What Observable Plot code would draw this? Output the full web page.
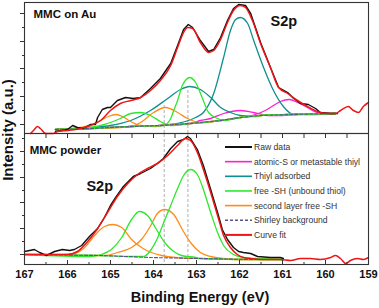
<!DOCTYPE html>
<html><head><meta charset="utf-8">
<script src="https://cdn.jsdelivr.net/npm/d3@7"></script>
<script src="https://cdn.jsdelivr.net/npm/@observablehq/plot@0.6"></script>
<style>
html,body{margin:0;padding:0;background:#fff;}
#chart{position:relative;width:379px;height:308px;}
</style></head><body><div id="chart"></div>
<script>
// ---------- data (binding energy eV, intensity a.u.) ----------
const panels = ["Au", "Powder"];
const xTickLabels = [167, 166, 165, 164, 163, 162, 161, 160, 159];
const xHalfTicks = [166.5, 165.5, 164.5, 163.5, 162.5, 161.5, 160.5, 159.5];
const auYMajor = [9, 37, 65, 92, 120];
const auYMinor = [23, 51, 78, 106];
const pwYMajor = [10, 36, 62, 87, 113];
const pwYMinor = [23, 49, 74, 100, 126];

// MMC on Au
const auRaw = [[166.28,2],[166.12,3],[166.00,4],[165.88,8],[165.77,6],[165.63,5],[165.47,9],[165.35,9],[165.30,16],[165.19,24],[165.07,26],[165.00,26],[164.84,33],[164.65,36],[164.47,35],[164.30,36],[164.07,45],[163.84,55],[163.60,70],[163.44,88],[163.30,104],[163.19,109],[163.09,106],[162.91,93],[162.72,82],[162.60,84],[162.44,96],[162.28,113],[162.14,125],[162.02,129],[161.86,128],[161.74,120],[161.51,91],[161.28,66],[161.09,46],[160.88,41],[160.74,35],[160.58,30],[160.40,29],[160.23,25],[160.12,21],[159.88,20],[159.72,20]];
const auFit = [[166.86,0],[166.77,4],[166.70,7],[166.63,5],[166.51,0],[166.33,0],[166.23,2],[166.00,3],[165.70,5],[165.47,8],[165.23,13],[165.00,23],[164.77,30],[164.53,33],[164.30,36],[164.07,43],[163.84,53],[163.60,68],[163.44,86],[163.30,101],[163.21,106],[163.09,105],[162.91,91],[162.72,81],[162.60,83],[162.44,94],[162.28,111],[162.14,123],[161.98,128],[161.86,126],[161.70,113],[161.51,90],[161.28,66],[161.09,46],[160.88,40],[160.65,33],[160.42,27],[160.19,22],[159.95,20],[159.77,20],[159.65,23],[159.47,27],[159.35,23],[159.23,21],[159.12,27],[159.00,31]];
const auBase = [[166.28,4],[165.47,5],[164.53,7],[163.84,8],[163.14,10],[162.44,13],[161.98,16],[161.51,18],[160.81,19],[159.77,20]];
const auThiylA = [[163.60,9],[163.26,12],[163.02,16],[162.84,21],[162.60,40],[162.37,76],[162.21,103],[162.09,114],[161.98,116],[161.81,110],[161.67,93],[161.44,66],[161.21,43],[160.98,27],[160.74,19],[160.35,19]];
const auThiylB = [[165.47,6],[165.00,8],[164.53,13],[164.07,23],[163.67,35],[163.37,44],[163.16,47],[162.91,44],[162.67,36],[162.44,26],[162.21,21],[161.98,18],[161.63,17]];
const auFreeA = [[163.77,8],[163.60,15],[163.53,23],[163.44,33],[163.33,48],[163.26,53],[163.16,56],[163.02,51],[162.86,35],[162.72,21],[162.51,15],[162.37,13]];
const auFreeB = [[165.70,5],[165.23,8],[165.00,11],[164.77,15],[164.53,20],[164.30,21],[164.07,18],[163.84,12],[163.60,8]];
const auSecondA = [[165.93,5],[165.58,7],[165.23,13],[165.05,17],[164.88,19],[164.72,17],[164.53,12],[164.30,8],[163.95,7]];
const auSecondB = [[164.77,6],[164.53,7],[164.30,11],[164.00,21],[163.72,26],[163.44,21],[163.21,15],[162.91,11],[162.63,12]];
const auAtomicA = [[162.91,13],[162.67,15],[162.37,20],[161.98,23],[161.67,21],[161.47,19],[161.35,18],[161.05,18]];
const auAtomicB = [[161.98,16],[161.63,19],[161.40,23],[161.21,28],[161.05,32],[160.84,34],[160.65,31],[160.42,26],[160.19,21],[159.95,20],[159.77,20]];

// MMC powder
const pwRaw = [[167.00,13],[166.88,14],[166.77,15],[166.65,12],[166.49,9],[166.30,13],[166.12,15],[165.95,14],[165.84,15],[165.67,19],[165.49,28],[165.30,36],[165.14,47],[165.00,59],[164.88,67],[164.70,78],[164.47,88],[164.30,91],[164.07,96],[163.91,101],[163.77,106],[163.60,116],[163.44,123],[163.30,125],[163.21,128],[163.14,126],[162.98,115],[162.84,99],[162.67,75],[162.51,52],[162.40,35],[162.28,25],[162.14,17],[162.02,13],[161.91,12],[161.74,11],[161.58,8],[161.28,7],[161.05,7],[160.98,6]];
const pwFit = [[167.00,10],[166.00,10],[165.77,13],[165.53,23],[165.30,36],[165.07,52],[164.84,68],[164.60,81],[164.37,90],[164.14,96],[163.91,101],[163.67,109],[163.44,119],[163.26,126],[163.14,124],[162.98,112],[162.84,95],[162.67,72],[162.51,49],[162.37,29],[162.21,17],[162.05,10],[161.91,7],[161.74,6],[161.51,5],[161.05,5],[160.81,4],[160.58,6],[160.35,6],[160.12,5],[159.88,7],[159.77,9],[159.65,6],[159.53,1],[159.42,4],[159.26,6],[159.12,5],[159.00,7]];
const pwBase = [[167.00,10],[165.23,9],[164.07,7],[162.91,6],[161.74,5],[160.98,5]];
const pwFreeA = [[164.53,8],[164.23,8],[164.07,14],[163.91,26],[163.77,41],[163.60,59],[163.44,76],[163.30,89],[163.14,95],[162.98,90],[162.84,75],[162.67,52],[162.51,32],[162.37,19],[162.14,10],[161.91,7],[161.63,6]];
const pwFreeB = [[165.47,8],[165.21,10],[164.98,15],[164.74,27],[164.51,45],[164.33,53],[164.14,49],[163.93,35],[163.74,22],[163.56,14],[163.35,9],[163.02,7]];
const pwSecondA = [[166.12,10],[165.84,11],[165.60,17],[165.37,29],[165.14,38],[164.95,40],[164.74,37],[164.51,25],[164.28,17],[164.05,12],[163.81,9],[163.49,7]];
const pwSecondB = [[165.12,9],[164.84,12],[164.51,17],[164.28,25],[164.05,40],[163.91,51],[163.74,55],[163.53,50],[163.33,35],[163.14,22],[162.91,12],[162.67,8],[162.37,6],[162.05,5]];

const refLines = [
  {panel: "Au", E: 163.75, lo: 0, hi: 30}, {panel: "Au", E: 163.2, lo: 0, hi: 45},
  {panel: "Powder", E: 163.75, lo: 2, hi: 131}, {panel: "Powder", E: 163.2, lo: 2, hi: 131}
];
const titles = [{panel: "Au", E: 166.79, I: 116, label: "MMC on Au"}, {panel: "Powder", E: 166.88, I: 111, label: "MMC powder"}];
const peakLabels = [{panel: "Au", E: 161.28, I: 108, label: "S2p"}, {panel: "Powder", E: 165.56, I: 74, label: "S2p"}];

const legendNames = ["Raw data", "atomic-S or metastable thiyl", "Thiyl adsorbed", "free -SH (unbound thiol)", "second layer free -SH", "Shirley background", "Curve fit"];

// ---------- styles ----------
const C = {raw: "#111", atomic: "#ff1fcf", thiyl: "#108f8f", free: "#2ee82e", second: "#ff8c1a", base: "#55558a", fit: "#ee1515"};

// ---------- build table ----------
const rows = [];
function addLine(panel, series, part, pts) {
  for (const [E, I] of pts) rows.push({panel, series, key: panel + "|" + series + "|" + part, E, I});
}
function withTails(peak, base) {
  const lo = d3.min(peak, d => d[0]), hi = d3.max(peak, d => d[0]);
  return [...base.filter(d => d[0] > hi + 0.1), ...peak, ...base.filter(d => d[0] < lo - 0.1)].sort((a, b) => b[0] - a[0]);
}
addLine("Au", "atomic", "a", withTails(auAtomicA, auBase));
addLine("Au", "atomic", "b", withTails(auAtomicB, auBase));
addLine("Au", "thiyl", "a", withTails(auThiylA, auBase));
addLine("Au", "thiyl", "b", withTails(auThiylB, auBase));
addLine("Au", "second", "a", withTails(auSecondA, auBase));
addLine("Au", "second", "b", withTails(auSecondB, auBase));
addLine("Au", "free", "a", withTails(auFreeA, auBase));
addLine("Au", "free", "b", withTails(auFreeB, auBase));
addLine("Au", "base", "a", auBase);
addLine("Au", "raw", "a", auRaw);
addLine("Au", "fit", "a", auFit);
addLine("Powder", "second", "a", withTails(pwSecondA, pwBase));
addLine("Powder", "second", "b", withTails(pwSecondB, pwBase));
addLine("Powder", "free", "a", withTails(pwFreeA, pwBase));
addLine("Powder", "free", "b", withTails(pwFreeB, pwBase));
addLine("Powder", "base", "a", pwBase);
addLine("Powder", "raw", "a", pwRaw);
addLine("Powder", "fit", "a", pwFit);

const only = s => rows.filter(d => d.series === s);
const lineOpts = (s, extra) => ({x: "E", y: "I", z: "key", fy: "panel", stroke: C[s], strokeWidth: 1.3, curve: "monotone-x", ...extra});

const font = "'Liberation Sans', Arial, Helvetica, sans-serif";
const blank = () => "";

const svgNode = Plot.plot({
  width: 379, height: 308,
  marginLeft: 24, marginRight: 11, marginTop: 2, marginBottom: 44,
  style: {fontFamily: font, background: "#fff", color: "#222"},
  x: {domain: [167, 159], label: null, axis: null},
  y: {domain: [0, 131], label: null, axis: null},
  fy: {domain: panels, padding: 0, axis: null, label: null},
  marks: [
    Plot.ruleX(refLines, {x: "E", y1: "lo", y2: "hi", fy: "panel", stroke: "#bdbdbd", strokeWidth: 1.2, strokeDasharray: "3,2"}),
    Plot.line(only("atomic"), lineOpts("atomic")),
    Plot.line(only("thiyl"), lineOpts("thiyl")),
    Plot.line(only("second"), lineOpts("second")),
    Plot.line(only("free"), lineOpts("free")),
    Plot.line(only("base"), lineOpts("base", {strokeDasharray: "3,2", strokeWidth: 1.1, curve: "linear"})),
    Plot.line(only("raw"), lineOpts("raw", {strokeWidth: 1.4, curve: "linear"})),
    Plot.line(only("fit"), lineOpts("fit", {strokeWidth: 1.5})),
    Plot.text(titles, {x: "E", y: "I", fy: "panel", text: "label", textAnchor: "start", lineAnchor: "bottom", fontSize: 11.5, fontWeight: "bold", fill: "#111"}),
    Plot.text(peakLabels, {x: "E", y: "I", fy: "panel", text: "label", textAnchor: "start", lineAnchor: "bottom", fontSize: 14.5, fontWeight: "bold", fill: "#111"}),
    Plot.frame({stroke: "#333", strokeWidth: 1.1}),
    Plot.axisX(xTickLabels, {anchor: "bottom", tickSize: 0, tickPadding: 6, tickFormat: d3.format("d"), fontSize: 11, fontWeight: "bold", fill: "#111", label: null}),
    Plot.axisX(xTickLabels, {anchor: "bottom", tickSize: -4, tickFormat: blank, label: null, stroke: "#333"}),
    Plot.axisX(xHalfTicks, {anchor: "bottom", tickSize: -2, tickFormat: blank, label: null, stroke: "#333"}),
    Plot.axisX([...xTickLabels, ...xHalfTicks], {anchor: "top", facetAnchor: "bottom", tickSize: -4, tickFormat: blank, label: null, stroke: "#333"}),
    Plot.axisY(auYMajor, {anchor: "left", facetAnchor: "top", tickSize: 4, tickFormat: blank, label: null, stroke: "#333"}),
    Plot.axisY(auYMinor, {anchor: "left", facetAnchor: "top", tickSize: 2, tickFormat: blank, label: null, stroke: "#333"}),
    Plot.axisY(pwYMajor, {anchor: "left", facetAnchor: "bottom", tickSize: 4, tickFormat: blank, label: null, stroke: "#333"}),
    Plot.axisY(pwYMinor, {anchor: "left", facetAnchor: "bottom", tickSize: 2, tickFormat: blank, label: null, stroke: "#333"})
  ]
});
document.getElementById("chart").appendChild(svgNode);

// ---------- axis titles and legend ----------
const svg = d3.select(svgNode);
svg.append("text")
  .attr("transform", "translate(13,130) rotate(-90)")
  .attr("text-anchor", "middle").attr("font-family", font).attr("font-size", 15).attr("font-weight", "bold").attr("fill", "#111")
  .text("Intensity (a.u.)");
svg.append("text")
  .attr("x", 200).attr("y", 302)
  .attr("text-anchor", "middle").attr("font-family", font).attr("font-size", 14.5).attr("font-weight", "bold").attr("fill", "#111")
  .text("Binding Energy (eV)");

const legendKeys = ["raw", "atomic", "thiyl", "free", "second", "base", "fit"];
const lg = svg.append("g").attr("transform", "translate(225,147)");
legendKeys.forEach((k, i) => {
  const g = lg.append("g").attr("transform", `translate(0,${i * 14.65})`);
  g.append("line").attr("x1", 0).attr("x2", 27).attr("y1", 0).attr("y2", 0)
    .attr("stroke", C[k]).attr("stroke-width", (k === "raw" || k === "fit") ? 2 : 1.6)
    .attr("stroke-dasharray", k === "base" ? "3,2" : null);
  g.append("text").attr("x", 29).attr("y", 0).attr("dy", "0.35em")
    .attr("text-anchor", "start")
    .attr("font-family", font).attr("font-size", 8.6).attr("fill", "#333")
    .text(legendNames[i]);
});
</script></body></html>
